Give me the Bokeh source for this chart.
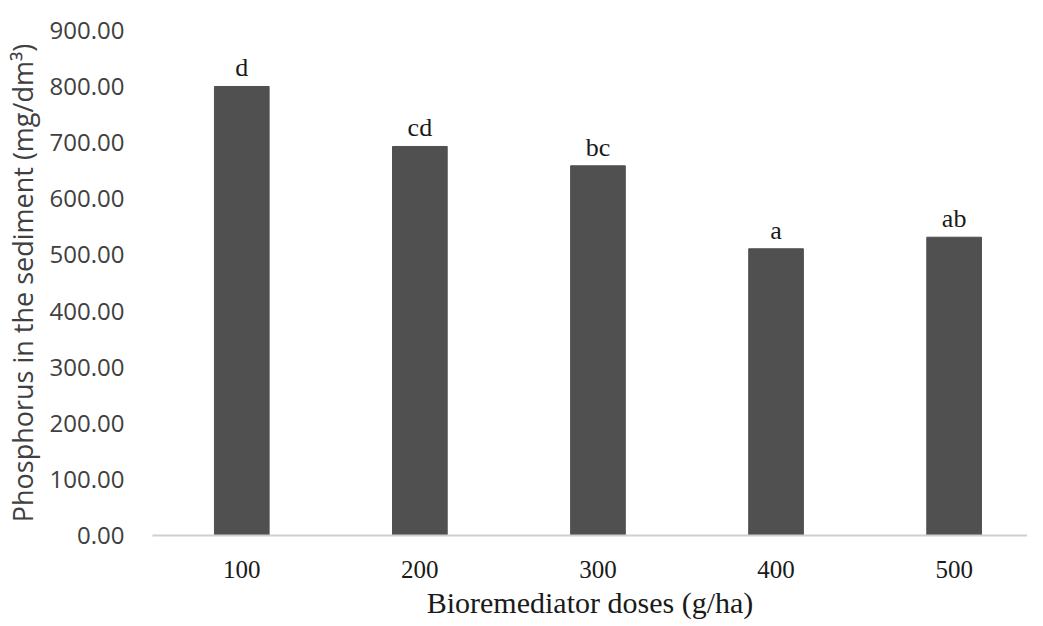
from bokeh.plotting import figure
from bokeh.models import Range1d, FixedTicker, ColumnDataSource
from bokeh.core.properties import value
from bokeh.embed import file_html
from bokeh.resources import INLINE

doses = ["100", "200", "300", "400", "500"]
phosphorus = [800.2, 693.3, 658.9, 511.0, 531.6]
letters = ["d", "cd", "bc", "a", "ab"]
y_ticks = [0, 100, 200, 300, 400, 500, 600, 700, 800, 900]

xpos = [i + 1 for i in range(len(doses))]
src = ColumnDataSource(dict(x=xpos, top=phosphorus, lab=letters))

p = figure(width=1027, height=621, output_backend="svg", toolbar_location=None,
           x_range=Range1d(0.4987, 5.412), y_range=Range1d(0, 900),
           min_border_left=145, min_border_right=0, min_border_top=30, min_border_bottom=86)
p.outline_line_color = None
p.xgrid.grid_line_color = None
p.ygrid.grid_line_color = None

p.vbar(x="x", top="top", width=0.307, bottom=0, source=src,
       fill_color="#505050", line_color="#505050")
p.text(x="x", y="top", text="lab", source=src, text_align="center",
       text_baseline="bottom", y_offset=-4, text_font=value("Liberation Serif"),
       text_font_size="26px", text_color="#1a1a1a")

# x axis
xa = p.xaxis[0]
xa.ticker = FixedTicker(ticks=xpos)
xa.major_label_overrides = {x: d for x, d in zip(xpos, doses)}
xa.axis_line_color = "#d0d0d0"
xa.axis_line_width = 2
xa.major_tick_line_color = None
xa.minor_tick_line_color = None
xa.major_label_standoff = 19
xa.major_label_text_font = "Liberation Serif"
xa.major_label_text_font_size = "25px"
xa.major_label_text_color = "#1a1a1a"
xa.axis_label = "Bioremediator doses (g/ha)"
xa.axis_label_text_font = "Liberation Serif"
xa.axis_label_text_font_style = "normal"
xa.axis_label_text_font_size = "30px"
xa.axis_label_text_color = "#1a1a1a"
xa.axis_label_standoff = 5

# y axis
ya = p.yaxis[0]
ya.ticker = FixedTicker(ticks=y_ticks)
ya.major_label_overrides = {t: f"{t:.2f}" for t in y_ticks}
ya.axis_line_color = None
ya.major_tick_line_color = None
ya.minor_tick_line_color = None
ya.major_label_standoff = 22
ya.major_label_text_font = "Open Sans"
ya.major_label_text_font_size = "24px"
ya.major_label_text_color = "#404040"
ya.axis_label = "Phosphorus in the sediment (mg/dm³)"
ya.axis_label_text_font = "Open Sans"
ya.axis_label_text_font_style = "normal"
ya.axis_label_text_font_size = "27px"
ya.axis_label_text_color = "#404040"
ya.axis_label_standoff = 6

open("out.html", "w").write(file_html(p, INLINE))
